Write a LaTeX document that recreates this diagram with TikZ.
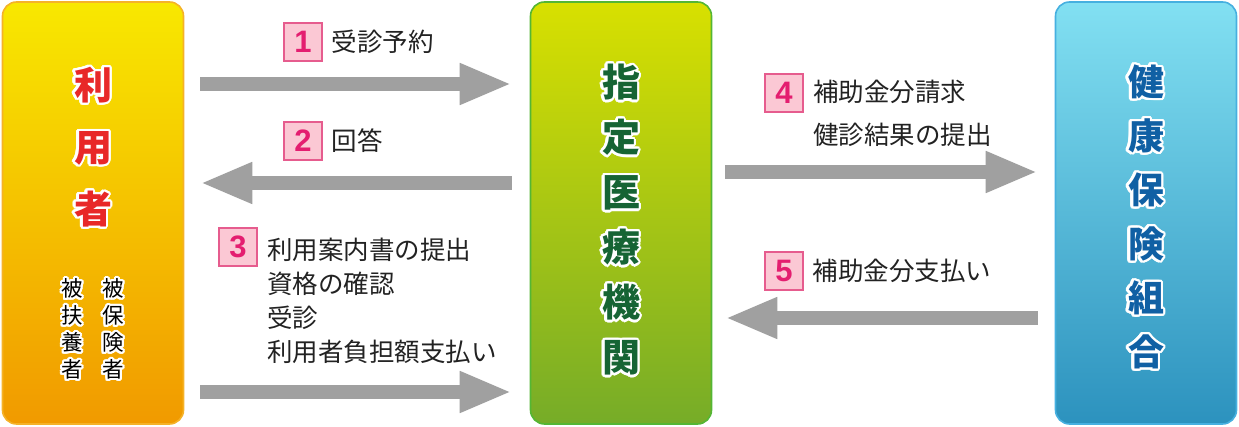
\documentclass[tikz,border=0pt]{standalone}
\usepackage{fontspec}
\usepackage{contour}
\usetikzlibrary{positioning, arrows.meta, calc}
\newfontfamily\jp{Noto Sans CJK JP}
\definecolor{usrtop}{RGB}{248,232,0}
\definecolor{usrbot}{RGB}{241,154,0}
\definecolor{usrline}{RGB}{245,178,40}
\definecolor{medtop}{RGB}{216,224,0}
\definecolor{medbot}{RGB}{118,172,40}
\definecolor{medline}{RGB}{84,182,52}
\definecolor{instop}{RGB}{130,224,242}
\definecolor{insbot}{RGB}{44,146,190}
\definecolor{insline}{RGB}{70,176,224}
\definecolor{usrtxt}{RGB}{232,40,40}
\definecolor{medtxt}{RGB}{22,100,52}
\definecolor{instxt}{RGB}{16,96,164}
\definecolor{flowgray}{RGB}{160,160,160}
\definecolor{numfill}{RGB}{251,200,212}
\definecolor{numline}{RGB}{230,92,142}
\definecolor{numtxt}{RGB}{228,30,112}
\definecolor{lbltxt}{RGB}{34,34,34}
\contourlength{2.2pt}
\contournumber{24}

\begin{document}
\begin{tikzpicture}[x=1pt, y=-1pt,
    party/.style={draw, line width=1.6pt, rounded corners=14pt, minimum width=181pt, minimum height=422pt, inner sep=0pt},
    title/.style={font=\jp\bfseries\fontsize{38}{58}\selectfont, align=center, inner sep=0pt},
    sub/.style={font=\jp\fontsize{21.5}{27}\selectfont, align=center, inner sep=0pt, text=black},
    flow/.style={draw=flowgray, line width=14pt, -{Triangle[length=52pt, width=38pt]}},
    numbox/.style={draw=numline, line width=1.4pt, fill=numfill, minimum width=38pt, minimum height=38pt, inner sep=0pt, text=numtxt, font=\fontspec{Liberation Sans}\bfseries\fontsize{31}{31}\selectfont},
    lbl/.style={font=\jp\fontsize{25.5}{34}\selectfont, text=lbltxt, align=left, inner sep=0pt}]
    \useasboundingbox (0,0) rectangle (1239,427);

    % Parties
    \node[party, draw=usrline, top color=usrtop, bottom color=usrbot] (user) at (93,213) {};
    \node[party, draw=medline, top color=medtop, bottom color=medbot] (clinic) at (621,213) {};
    \node[party, draw=insline, top color=instop, bottom color=insbot] (union) at (1146,213) {};

    % Titles
    \node[title, text=usrtxt, font=\jp\bfseries\fontsize{38}{62}\selectfont] (usertitle) at (93,148) {\contour{white}{利}\\\contour{white}{用}\\\contour{white}{者}};
    \node[sub] (insured) at (113,330) {\contour{white}{被}\\\contour{white}{保}\\\contour{white}{険}\\\contour{white}{者}};
    \node[sub] (depend) at (72,330) {\contour{white}{被}\\\contour{white}{扶}\\\contour{white}{養}\\\contour{white}{者}};
    \node[title, text=medtxt, font=\jp\bfseries\fontsize{38}{55}\selectfont] (clinictitle) at (621,221) {\contour{white}{指}\\\contour{white}{定}\\\contour{white}{医}\\\contour{white}{療}\\\contour{white}{機}\\\contour{white}{関}};
    \node[title, text=instxt, font=\jp\bfseries\fontsize{36}{54}\selectfont] (uniontitle) at (1146,218) {\contour{white}{健}\\\contour{white}{康}\\\contour{white}{保}\\\contour{white}{険}\\\contour{white}{組}\\\contour{white}{合}};

    % Flows
    \draw[flow] ($(user.east |- 0,84)+(16,0)$) -- ($(clinic.west |- 0,84)+(-18,0)$);
    \draw[flow] ($(clinic.west |- 0,183)+(-18,0)$) -- ($(user.east |- 0,183)+(16,0)$);
    \draw[flow] ($(user.east |- 0,392)+(16,0)$) -- ($(clinic.west |- 0,392)+(-18,0)$);
    \draw[flow] ($(clinic.east |- 0,172)+(13,0)$) -- ($(union.west |- 0,172)+(-17,0)$);
    \draw[flow] ($(union.west |- 0,318)+(-17,0)$) -- ($(clinic.east |- 0,318)+(13,0)$);

    % Labels
    \node[numbox] (n1) at (303,42) {1};
    \node[lbl, right=9pt of n1] (l1) {受診予約};
    \node[numbox] (n2) at (303,141) {2};
    \node[lbl, right=9pt of n2] (l2) {回答};
    \node[numbox] (n3) at (238,247) {3};
    \node[lbl, anchor=base west] (l3) at (267,362) {利用案内書の提出\\資格の確認\\受診\\利用者負担額支払い};
    \node[numbox] (n4) at (784,93) {4};
    \node[lbl, anchor=base west, font=\jp\fontsize{25.5}{43}\selectfont] (l4) at (813,145) {補助金分請求\\健診結果の提出};
    \node[numbox] (n5) at (784,271) {5};
    \node[lbl, right=9pt of n5] (l5) {補助金分支払い};
\end{tikzpicture}
\end{document}
